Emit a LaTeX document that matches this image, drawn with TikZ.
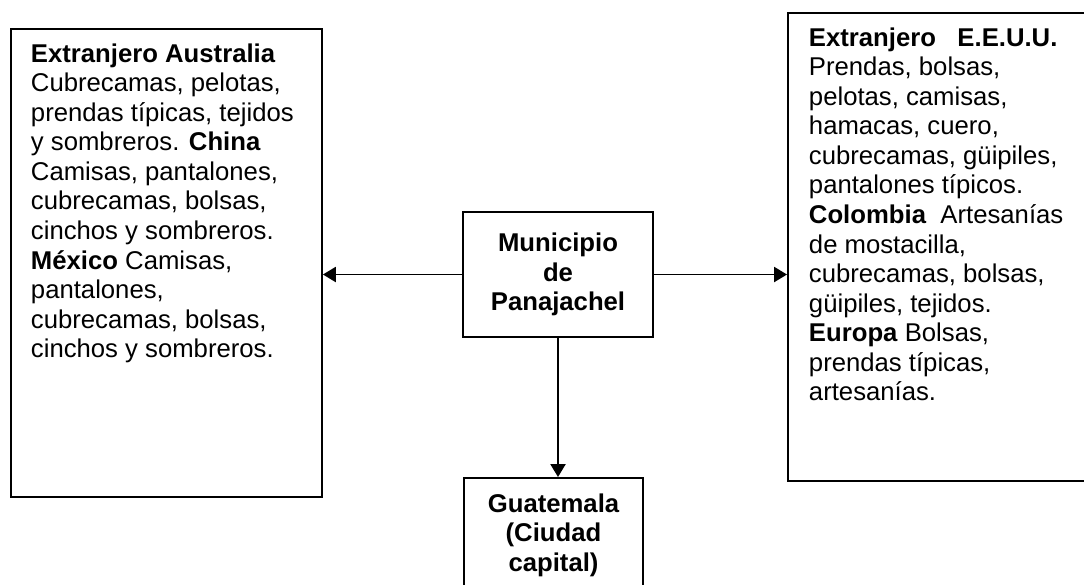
\documentclass[tikz,border=0pt]{standalone}
\usepackage{fontspec}
\setmainfont{Liberation Sans}
\usetikzlibrary{arrows.meta}
\def\pxu{0.467pt}
\tikzset{%
	every box/.style={
		draw,
		line width=0.9pt,
		inner sep=0pt
	},
	box text/.style={
		anchor=north west,
		inner sep=0pt,
		align=left,
		font=\fontsize{12}{13.8}\selectfont
	},
	box title/.style={
		align=center,
		font=\bfseries\fontsize{12}{13.8}\selectfont
	},
}

\begin{document}
\begin{tikzpicture}[x=\pxu, y=-\pxu, >={Triangle[length=6pt,width=7pt]}, line width=0.9pt]
	\clip (0,0) rectangle (1084,584);
	
	% destination boxes
	\node [every box, anchor=north west, minimum width=311*\pxu, minimum height=468*\pxu] (australia) at (10,28) {};
	\node [every box, anchor=north west, minimum width=313*\pxu, minimum height=468*\pxu] (eeuu) at (787,12) {};
	\node [every box, box title, minimum width=190*\pxu, minimum height=125*\pxu] (panajachel) at (558,274.5) {Municipio\\de\\Panajachel};
	\node [every box, box title, anchor=north, minimum width=179*\pxu, inner ysep=15.6*\pxu] (guatemala) at (553.5,477) {Guatemala\\(Ciudad\\capital)};
	
	\node [box text] (australia-text) at (30,42.6) {\textbf{Extranjero Australia}\\
		Cubrecamas, pelotas,\\
		prendas típicas, tejidos\\
		y sombreros. \textbf{China}\\
		Camisas, pantalones,\\
		cubrecamas, bolsas,\\
		cinchos y sombreros.\\
		\textbf{México} Camisas,\\
		pantalones,\\
		cubrecamas, bolsas,\\
		cinchos y sombreros.};
	
	\node [box text] (eeuu-text) at (808,26.6) {\textbf{Extranjero\ \ \ E.E.U.U.}\\
		Prendas, bolsas,\\
		pelotas, camisas,\\
		hamacas, cuero,\\
		cubrecamas, güipiles,\\
		pantalones típicos.\\
		\textbf{Colombia}\ \ Artesanías\\
		de mostacilla,\\
		cubrecamas, bolsas,\\
		güipiles, tejidos.\\
		\textbf{Europa} Bolsas,\\
		prendas típicas,\\
		artesanías.};
	
	\draw [->] (panajachel.west) -- (panajachel.west -| australia.east);
	\draw [->] (panajachel.east) -- (panajachel.east -| eeuu.west);
	\draw [->] (panajachel.south) -- (panajachel.south |- guatemala.north);
	
\end{tikzpicture}
\end{document}
